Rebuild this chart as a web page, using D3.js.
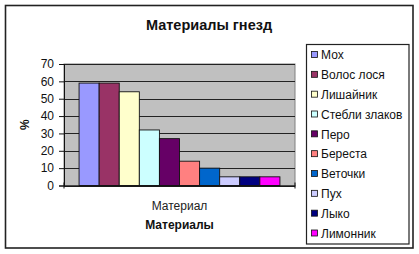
<!DOCTYPE html>
<html><head><meta charset="utf-8">
<script src="https://cdn.jsdelivr.net/npm/d3@7"></script>
<style>body{margin:0;background:#fff}svg{display:block}text{font-family:"Liberation Sans",Arial,sans-serif}</style>
</head><body><div id="c"></div>
<script>
const categories = ["Материал"];
const seriesNames = ["Мох","Волос лося","Лишайник","Стебли злаков","Перо","Береста","Веточки","Пух","Лыко","Лимонник"];
const seriesValues = [59,59,54,32,27,14,10,5,5,5];
const seriesColors = ["#9999FF","#993366","#FFFFCC","#CCFFFF","#660066","#FF8080","#0066CC","#CCCCFF","#000080","#FF00FF"];
const yTicks = [0,10,20,30,40,50,60,70];

const W=419,H=254;
const svg=d3.select("#c").append("svg").attr("width",W).attr("height",H);
svg.append("rect").attr("width",W).attr("height",H).attr("fill","#fff");
svg.append("rect").attr("x",5.5).attr("y",5.5).attr("width",407.5).attr("height",242.5).attr("fill","#fff").attr("stroke","#222").attr("stroke-width",1.6);

svg.append("text").attr("x",209).attr("y",30).attr("text-anchor","middle").attr("font-weight","bold").attr("font-size",14.5).attr("fill","#111").text("Материалы гнезд");

const L=64,R=295,T=64,B=185.5;
const y=d3.scaleLinear().domain([0,70]).range([B,T]);
const x0=d3.scaleBand().domain(categories).range([L,R]).paddingInner(0).paddingOuter(0);
const x1=d3.scaleBand().domain(seriesNames).range([0,x0.bandwidth()]).paddingOuter(0.75).paddingInner(0);

svg.append("rect").attr("x",L).attr("y",T).attr("width",R-L).attr("height",B-T).attr("fill","#C0C0C0").attr("stroke","#808080");
svg.append("g").selectAll("line").data(yTicks).join("line")
  .attr("x1",L).attr("x2",R).attr("y1",d=>Math.round(y(d))+0.5).attr("y2",d=>Math.round(y(d))+0.5).attr("stroke","#222").attr("stroke-width",1);

const data=seriesNames.map((n,i)=>({n,v:seriesValues[i],c:seriesColors[i]}));
svg.append("g").selectAll("rect").data(data).join("rect")
  .attr("x",d=>x0(categories[0])+x1(d.n)).attr("y",d=>y(d.v)).attr("width",x1.bandwidth()).attr("height",d=>B-y(d.v))
  .attr("fill",d=>d.c).attr("stroke","#111").attr("stroke-width",0.9);

const ya=svg.append("g").attr("transform",`translate(${L},0)`).call(d3.axisLeft(y).tickValues(yTicks).tickSize(5).tickPadding(5));
ya.select(".domain").attr("stroke","#111");
ya.selectAll("line").attr("stroke","#111");
ya.selectAll("text").attr("font-size",12).attr("fill","#111").style("font-family","'Liberation Sans',Arial,sans-serif");

const xa=svg.append("g").attr("transform",`translate(0,${B})`).call(d3.axisBottom(x0).tickSize(0).tickPadding(16));
xa.select(".domain").attr("stroke","#111");
xa.selectAll("text").attr("font-size",12).attr("fill","#222").style("font-family","'Liberation Sans',Arial,sans-serif");
svg.append("g").selectAll("line").data([L,R]).join("line").attr("x1",d=>d).attr("x2",d=>d).attr("y1",B-3).attr("y2",B+3).attr("stroke","#111");

svg.append("text").attr("x",(L+R)/2).attr("y",229).attr("text-anchor","middle").attr("font-weight","bold").attr("font-size",12).attr("fill","#111").text("Материалы");
svg.append("text").attr("transform",`translate(29,${(T+B)/2}) rotate(-90)`).attr("text-anchor","middle").attr("font-weight","bold").attr("font-size",12).attr("fill","#111").text("%");

const lg=svg.append("g");
lg.append("rect").attr("x",306.5).attr("y",44.5).attr("width",102.5).attr("height",199.5).attr("fill","#fff").attr("stroke","#222").attr("stroke-width",1.2);
const ly=d3.scalePoint().domain(seriesNames).range([55,233.5]);
const it=lg.selectAll("g").data(data).join("g").attr("transform",d=>`translate(0,${ly(d.n)})`);
it.append("rect").attr("x",311.5).attr("y",-3.5).attr("width",6).attr("height",6).attr("fill",d=>d.c).attr("stroke","#111").attr("stroke-width",0.8);
it.append("text").attr("x",321).attr("y",4.2).attr("font-size",12).attr("fill","#111").text(d=>d.n);
</script></body></html>
